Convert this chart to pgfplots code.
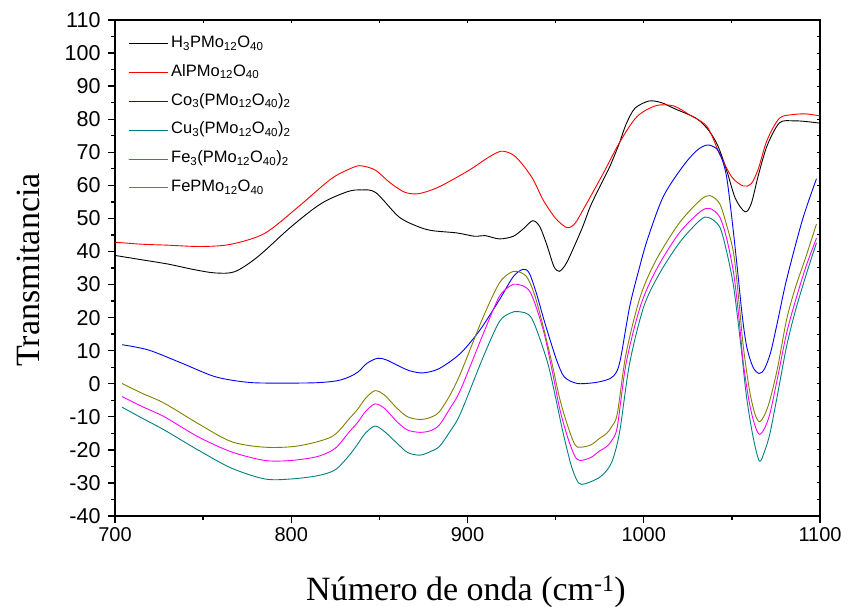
\documentclass[border=0pt]{standalone}
\usepackage{fontspec}
\setmainfont{Liberation Serif}
\newfontfamily\arial{Liberation Sans}
\usepackage{pgfplots}
\pgfplotsset{compat=1.18}
\usepackage{pgfplotstable}

\definecolor{cTeal}{HTML}{008080}
\definecolor{cOlive}{HTML}{808000}
\definecolor{cBlue}{HTML}{0000FF}
\definecolor{cMag}{HTML}{FF00FF}

% FT-IR spectra, wavenumber (cm^-1) vs transmittance
\pgfplotstableread{
x y
700 38.8
715 37.5
730 36.2
745 34.5
757 33.5
768 33.9
781 38.4
800 47.5
817 54.5
832 58.1
840 58.6
848 57.8
861 50.5
872 47.5
880 46.3
894 45.6
904 44.6
910 44.8
918 43.8
926 44.6
932 47
937 49.3
941 47.5
945 42
949 35.5
952 34
955 35.5
958 38.5
965 47
970 54
977 61.6
981 66
986 72.5
990 78.5
995 83.3
1003 85.5
1010 85
1017 83.3
1030 80.2
1037 76.5
1042 72
1047 64.6
1052 56
1057.5 52
1061 54.5
1065 63
1070 72
1077 78.9
1085 79.5
1092 79.3
1100 78.8
}\tabH
\pgfplotstableread{
x y
700 42.8
715 42.2
730 41.9
749 41.5
766 42.2
785 45.5
804 53.5
823 62.1
836 65.6
841 65.8
848 64.5
856 60.8
864 58
871 57.4
878 58.3
886 60.1
901 64.6
912 68.5
919 70.3
925 69.5
930 67.1
937 62
943 55.5
950 50
956.5 47.2
961 48.5
966 53
977 63.6
986 72.7
996 80.7
1007 84.1
1017 84
1026 81.3
1036 77.7
1043 69.5
1050 62.5
1056.5 59.8
1061 60.5
1065 65
1070 73.7
1077 80.3
1085 81.4
1092 81.6
1100 81
}\tabAl
\pgfplotstableread{
x y
704 11.8
719 10.2
738 6.2
757 2.1
776 0.4
795 0.2
814 0.3
826 0.9
833 2.1
838 3.6
843 6.2
849 7.7
854 7.2
862 5.1
868 3.8
875 3.3
884 4.6
896 9.2
907 16.2
918 25.3
926 32.4
931.5 34.6
935 33.5
939 27.5
943 20
947 13
951 6.5
955 2
962 0.1
970 0.2
975 0.6
981 1.6
984.5 3.5
987 8
992 23.3
997 34
1002 43.5
1011 56.5
1022 65.6
1030 70.5
1036 72.2
1041 71.2
1044 68.5
1047 62.6
1050 50
1053 35.4
1056 20
1058.5 11
1062 5
1065.5 3.1
1068.5 4.5
1072 9.5
1076 19
1081 31.4
1090 49.5
1098 62
}\tabCo
\pgfplotstableread{
x y
704 -7.1
715 -10.3
728 -14
747 -20
766 -25.5
785 -28.8
800 -28.8
815 -27.8
825 -26
833 -21.6
838 -18
842 -15
847.5 -12.8
853 -14.5
860 -18
866 -20.8
873 -21.6
879 -20.5
884 -19
890 -14.5
896 -9
909 8.2
918 18.7
924 21.3
929 21.8
936.4 19.8
945 7.2
949.5 -3
954.3 -15
959 -25
963 -30
967 -30.2
975 -28.3
980 -25.5
983 -22
986.5 -14
992 6.2
1000 23.3
1009 33.4
1020.6 42.9
1032 49.5
1036.7 50.3
1043 47.5
1047 40
1051 29.3
1055 12
1058.3 -3.9
1062 -16
1065.6 -23.4
1068.5 -20.5
1071.6 -15
1076 -3
1081 11.2
1086 22
1092.4 33.4
1098 42.6
}\tabCu
\pgfplotstableread{
x y
704 -3.9
715 -6.8
728 -10
747 -16
766 -20.6
785 -23.2
800 -23.2
815 -22
825 -19.5
833 -14.5
838 -11.5
842 -8.5
847.5 -6.1
853 -7.5
860 -11.5
866 -14
873 -14.7
879 -14.2
884 -12.5
890 -7.5
896 -1.9
909 15.2
918 26.3
924 29.5
928 30.1
935.5 27.8
943 16.2
948 4
952.5 -8
957 -16.5
961 -22
964 -23.2
970 -22.3
975 -20.3
979 -19
982 -17
985 -13
990 6.2
998 23.3
1007 34.4
1020 45.5
1032 52
1037.5 53
1043 50.5
1047 44
1051 33.4
1054 20
1056.5 6.2
1060 -6
1063 -12.5
1065.6 -15.3
1068.5 -13.5
1071.6 -9
1076 2
1081 15.2
1086 25
1092 35.4
1098 44
}\tabFeT
\pgfplotstableread{
x y
704 0.1
715 -2.8
728 -5.9
747 -12
766 -17.5
785 -19.2
804 -18.8
823 -16
833 -10.5
838 -7.5
842 -4.5
847.5 -2.1
853 -3.5
860 -7.4
866 -10
873 -10.8
879 -10.2
884 -8.5
890 -3.5
896 3.1
909 20.3
918 30.4
924 33.5
928 34
933.5 32.4
938 27
943 17.2
948 6
952.5 -4.9
957 -13
961 -18.5
964 -19.2
970 -18.5
975 -16.5
979 -15
982 -12.8
985 -9
990 9.2
998 26.3
1007 37.4
1020 48.5
1032 55.5
1037.5 56.9
1043 54.5
1047 48
1051 39.4
1054 25
1056.5 11.2
1060 -2
1063 -9
1065.6 -11.5
1068.5 -9.5
1071.6 -4.9
1076 5
1081 19.3
1086 29
1092 38.4
1098 48.3
}\tabFe

\begin{document}
\begin{tikzpicture}
\useasboundingbox (-115bp,-91bp) rectangle (733bp,516bp);
% short inner ticks on the top and right frame
\begin{axis}[
  at={(0,0)}, anchor=south west,
  width=705bp, height=496bp, scale only axis,
  xmin=700, xmax=1100, ymin=-40, ymax=110,
  axis line style={draw=none},
  xtick={700,750,...,1100}, ytick={-40,-35,...,110},
  xticklabels={}, yticklabels={},
  xtick pos=right, ytick pos=right,
  tick align=inside, major tick length=3bp,
  every tick/.style={black, line width=1bp},
]
\end{axis}
\begin{axis}[
  at={(0,0)}, anchor=south west,
  width=705bp, height=496bp, scale only axis,
  xmin=700, xmax=1100, ymin=-40, ymax=110,
  xtick={700,800,...,1100}, ytick={-40,-30,...,110},
  minor x tick num=1, minor y tick num=1,
  tick pos=left, tick align=outside,
  major tick length=7bp, minor tick length=4bp,
  axis line style={line width=1.3bp},
  every tick/.style={black, line width=1.3bp},
  /pgf/number format/assume math mode=true,
  /pgf/number format/1000 sep={},
  xticklabel style={font=\arial\fontsize{20bp}{24bp}\selectfont, yshift=-1bp},
  yticklabel style={font=\arial\fontsize{21.5bp}{25bp}\selectfont, xshift=-4bp},
  xlabel={Número de onda (cm\textsuperscript{-1})},
  ylabel={Transmitancia},
  label style={font=\fontsize{34bp}{40bp}\selectfont},
  xlabel style={at={(rel axis cs:0.4979,-0.152)}, anchor=center},
  ylabel style={at={(rel axis cs:-0.1234,0.496)}, anchor=center},
  legend cell align=left,
  legend image code/.code={\draw[#1, line width=1bp] (0bp,0bp) -- (39bp,0bp);},
  legend style={at={(rel axis cs:0.0184,0.973)}, anchor=north west,
    draw=none, fill=none, inner sep=0pt, row sep=8bp, column sep=3bp,
    font=\arial\fontsize{16.5bp}{19bp}\selectfont,
    nodes={inner sep=0pt, text height=14bp, text depth=6.8bp}},
  every axis plot/.append style={line width=0.9bp, smooth, tension=0.5},
]
\addplot[black] table {\tabH};
\addlegendentry{H\textsubscript{3}PMo\textsubscript{12}O\textsubscript{40}}
\addplot[red] table {\tabAl};
\addlegendentry{AlPMo\textsubscript{12}O\textsubscript{40}}
\addplot[cBlue] table {\tabCo};
\addlegendentry{Co\textsubscript{3}(PMo\textsubscript{12}O\textsubscript{40})\textsubscript{2}}
\addplot[cTeal] table {\tabCu};
\addlegendentry{Cu\textsubscript{3}(PMo\textsubscript{12}O\textsubscript{40})\textsubscript{2}}
\addplot[cMag] table {\tabFeT};
\addlegendentry{Fe\textsubscript{3}(PMo\textsubscript{12}O\textsubscript{40})\textsubscript{2}}
\addplot[cOlive] table {\tabFe};
\addlegendentry{FePMo\textsubscript{12}O\textsubscript{40}}
\end{axis}
\end{tikzpicture}
\end{document}
